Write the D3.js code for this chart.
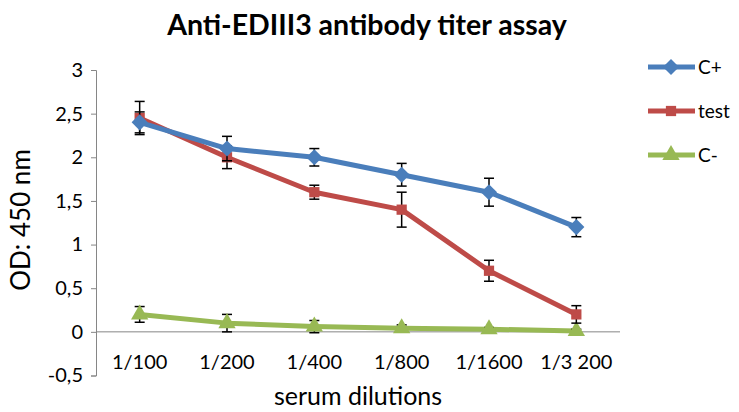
<!DOCTYPE html>
<html>
<head>
<script src="https://d3js.org/d3.v7.min.js"></script>
<style>
  body { margin: 0; background: #fff; }
  text { font-family: Lato, "Open Sans", sans-serif; fill: #000; }
</style>
</head>
<body>
<svg id="chart" width="739" height="412"></svg>
<script>
const dilutions = ["1/100", "1/200", "1/400", "1/800", "1/1600", "1/3 200"];
const cPlus = [2.4, 2.1, 2.0, 1.8, 1.6, 1.2];
const cPlusErr = [0.12, 0.14, 0.1, 0.13, 0.16, 0.11];
const test = [2.45, 2.0, 1.6, 1.4, 0.7, 0.2];
const testErr = [0.19, 0.13, 0.08, 0.2, 0.12, 0.1];
const cMinus = [0.2, 0.1, 0.06, 0.04, 0.03, 0.01];
const cMinusErr = [0.09, 0.1, 0.07, 0.04, 0.02, 0.02];
const yTicks = [-0.5, 0, 0.5, 1, 1.5, 2, 2.5, 3];

// Excel-style diamond: square turned 45 degrees
const diamond = {draw(ctx, size) { const r = Math.sqrt(size) / 2 * Math.SQRT2; ctx.moveTo(0, -r); ctx.lineTo(r, 0); ctx.lineTo(0, r); ctx.lineTo(-r, 0); ctx.closePath(); }};

const series = [
  {name: "C+", values: cPlus, err: cPlusErr, color: "#4a7ebb", shape: diamond, size: 130},
  {name: "test", values: test, err: testErr, color: "#be4b48", shape: d3.symbolSquare, size: 105},
  {name: "C-", values: cMinus, err: cMinusErr, color: "#98b954", shape: d3.symbolTriangle, size: 130}
];

const svg = d3.select("#chart");
const x = d3.scaleBand().domain(dilutions).range([96, 620]);
const y = d3.scaleLinear().domain([-0.5, 3]).range([375.5, 70]);

// title
svg.append("text")
  .attr("x", 367).attr("y", 35)
  .attr("text-anchor", "middle")
  .style("font-size", "28.5px").style("font-weight", "bold")
  .text("Anti-EDIII3 antibody titer assay");

// y axis
const yAxis = svg.append("g")
  .attr("transform", "translate(96,0)")
  .call(d3.axisLeft(y).tickValues(yTicks).tickSize(5).tickPadding(8)
    .tickFormat(d => String(d).replace(".", ",")));
yAxis.select(".domain").attr("stroke", "#868686");
yAxis.selectAll(".tick line").attr("stroke", "#868686");
yAxis.selectAll("text").style("font-size", "20px").style("font-family", "Lato, sans-serif");

// x axis at zero
svg.append("line")
  .attr("x1", 96).attr("x2", 620)
  .attr("y1", y(0)).attr("y2", y(0))
  .attr("stroke", "#868686");

svg.append("g").selectAll("text").data(dilutions).join("text")
  .attr("x", d => x(d) + x.bandwidth() / 2)
  .attr("y", 369)
  .attr("text-anchor", "middle")
  .style("font-size", "20px")
  .text(d => d);

// axis titles
svg.append("text")
  .attr("x", 358).attr("y", 405)
  .attr("text-anchor", "middle")
  .style("font-size", "25px")
  .text("serum dilutions");
svg.append("text")
  .attr("transform", "translate(30,220) rotate(-90)")
  .attr("text-anchor", "middle")
  .style("font-size", "26px")
  .text("OD: 450 nm");

const cx = d => x(d) + x.bandwidth() / 2;
const line = d3.line().x((d, i) => cx(dilutions[i])).y(d => y(d));

series.slice().reverse().forEach(s => {
  const g = svg.append("g");
  g.append("path")
    .attr("d", line(s.values))
    .attr("fill", "none")
    .attr("stroke", s.color)
    .attr("stroke-width", 5)
    .attr("stroke-linejoin", "round");
  // error bars
  s.values.forEach((v, i) => {
    const px = cx(dilutions[i]);
    const eb = g.append("g").attr("stroke", "#000").attr("stroke-width", 1.5);
    eb.append("line").attr("x1", px).attr("x2", px).attr("y1", y(v + s.err[i])).attr("y2", y(v - s.err[i]));
    [v + s.err[i], v - s.err[i]].forEach(e => {
      eb.append("line").attr("x1", px - 5).attr("x2", px + 5).attr("y1", y(e)).attr("y2", y(e));
    });
  });
  g.selectAll("path.m").data(s.values).join("path")
    .attr("class", "m")
    .attr("transform", (d, i) => `translate(${cx(dilutions[i])},${y(d)})`)
    .attr("d", d3.symbol().type(s.shape).size(s.size))
    .attr("fill", s.color);
});

// legend
const legend = svg.append("g");
series.forEach((s, i) => {
  const ly = 67 + i * 44;
  legend.append("line")
    .attr("x1", 648).attr("x2", 695).attr("y1", ly).attr("y2", ly)
    .attr("stroke", s.color).attr("stroke-width", 5);
  legend.append("path")
    .attr("transform", `translate(671,${ly})`)
    .attr("d", d3.symbol().type(s.shape).size(s.size))
    .attr("fill", s.color);
  legend.append("text")
    .attr("x", 698).attr("y", ly + 7)
    .style("font-size", "19px")
    .text(s.name);
});
</script>
</body>
</html>
